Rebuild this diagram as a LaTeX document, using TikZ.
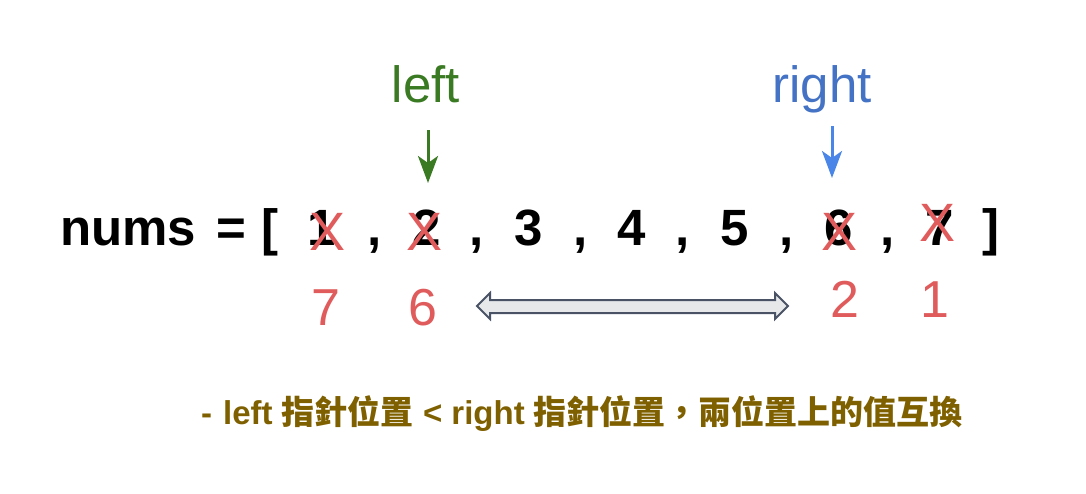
\documentclass[tikz,border=0pt]{standalone}
\usepackage{fontspec}
\setmainfont{Liberation Sans}
\newfontfamily\cjk{Noto Sans CJK TC}
\usetikzlibrary{arrows.meta}
\definecolor{redx}{HTML}{E05C5C}
\definecolor{gleft}{HTML}{3A7A22}
\definecolor{bright}{HTML}{4472C4}
\definecolor{barrow}{HTML}{4A86E8}
\definecolor{gold}{HTML}{7F6000}
\definecolor{dstroke}{HTML}{4A5366}
\definecolor{dfill}{HTML}{E6E8EA}
\tikzset{
  big/.style={inner sep=0pt, anchor=base, font=\fontsize{51}{60}\selectfont\bfseries, text=black},
  redmark/.style={inner sep=0pt, anchor=base, font=\fontsize{54}{62}\selectfont, text=redx},
  rednum/.style={inner sep=0pt, anchor=base, font=\fontsize{52}{62}\selectfont, text=redx},
  ptrlabel/.style={inner sep=0pt, anchor=base, font=\fontsize{51}{60}\selectfont},
  ptrarrow/.style={line width=3pt, -{Stealth[length=27pt, width=20pt, inset=7pt]}},
  swaparrow/.style={draw=dstroke, fill=dfill, line width=2pt, line join=miter},
  note/.style={inner sep=0pt, anchor=base west, font=\fontsize{33}{40}\selectfont\bfseries, text=gold}
}
\begin{document}
\begin{tikzpicture}[x=1pt,y=-1pt]
\useasboundingbox (0,0) rectangle (1086,493);
% main row
\node[big, anchor=base west] (nums) at (60,245) {nums};
\node[big] (eq) at (231,245) {=};
\node[big] (lb) at (270,245) {[};
\node[big] (d1) at (322,245) {1};
\node[big] (c1) at (375,245) {,};
\node[big] (d2) at (427,245) {2};
\node[big] (c2) at (477,245) {,};
\node[big] (d3) at (529,245) {3};
\node[big] (c3) at (581,245) {,};
\node[big] (d4) at (632,245) {4};
\node[big] (c4) at (683,245) {,};
\node[big] (d5) at (735,245) {5};
\node[big] (c5) at (787,245) {,};
\node[big] (d6) at (839,245) {6};
\node[big] (c6) at (888,245) {,};
\node[big] (d7) at (940,245) {7};
\node[big] (rb) at (991,245) {]};
% red crosses
\node[redmark] (x1) at (328,250) {X};
\node[redmark] (x2) at (425,250) {X};
\node[redmark] (x6) at (839,250) {X};
\node[redmark] (x7) at (937,241) {X};
% new values
\node[rednum] (n1) at (326,325) {7};
\node[rednum] (n2) at (423,325) {6};
\node[rednum] (n6) at (845,317) {2};
\node[rednum] (n7) at (935,317) {1};
% pointer labels
\node[ptrlabel, text=gleft] (left) at (426,102) {left};
\node[ptrlabel, text=bright] (right) at (822,102) {right};
\coordinate (la) at (428,130);
\coordinate (lb2) at (428,183);
\coordinate (ra) at (832,126);
\coordinate (rb2) at (832,178);
\draw[ptrarrow, draw=gleft, fill=gleft] (la) -- (lb2);
\draw[ptrarrow, draw=barrow, fill=barrow] (ra) -- (rb2);
% swap double arrow
\draw[swaparrow] (477,306) -- (490,293) -- (490,300) -- (775,300) -- (775,293)
  -- (788,306) -- (775,319) -- (775,313) -- (490,313) -- (490,319) -- cycle;
% note
\node[note] (note) at (201,424) {-\hspace{11pt}left {\cjk 指針位置} < right {\cjk 指針位置，兩位置上的值互換}};
\end{tikzpicture}
\end{document}
